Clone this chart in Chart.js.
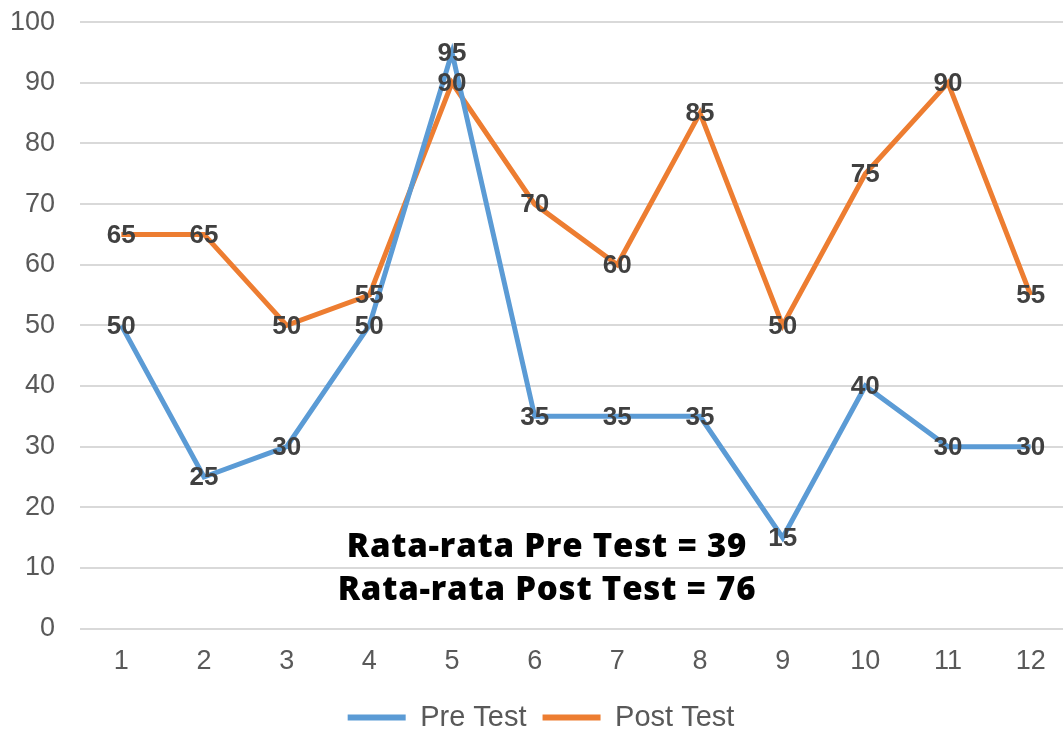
<!DOCTYPE html>
<html>
<head>
<meta charset="utf-8">
<script src="https://cdn.jsdelivr.net/npm/chart.js@4"></script>
<style>
  body { margin: 0; overflow: hidden; background: #fff; }
  #tela { position: relative; width: 1063px; height: 729px; overflow: hidden; }
  #wrap { position: absolute; left: 0; top: -19px; width: 1072px; height: 761px; }
  .rata { position: absolute; left: 0; width: 1094px; text-align: center;
          font-family: "Open Sans", sans-serif; font-weight: 800;
          font-size: 33px; letter-spacing: 0.8px; color: #000; line-height: 40px; }
</style>
</head>
<body>
<div id="tela">
  <div id="wrap"><canvas id="grafico"></canvas></div>
  <div class="rata" style="top:525px">Rata-rata Pre Test = 39</div>
  <div class="rata" style="top:568px">Rata-rata Post Test = 76</div>
</div>
<script>
var nomor = ["1", "2", "3", "4", "5", "6", "7", "8", "9", "10", "11", "12"];
var preTest = [50, 25, 30, 50, 95, 35, 35, 35, 15, 40, 30, 30];
var postTest = [65, 65, 50, 55, 90, 70, 60, 85, 50, 75, 90, 55];

var fonte = "Liberation Sans";

// escreve o valor em cima de cada ponto
const rotulos = {
  id: "rotulos",
  afterDatasetsDraw(chart) {
    const ctx = chart.ctx;
    ctx.save();
    ctx.font = "bold 26px '" + fonte + "'";
    ctx.fillStyle = "#404040";
    ctx.textAlign = "center";
    ctx.textBaseline = "middle";
    chart.data.datasets.forEach(function (ds, i) {
      chart.getDatasetMeta(i).data.forEach(function (p, j) {
        ctx.fillText(ds.data[j], p.x, p.y + 1);
      });
    });
    ctx.restore();
  },
};

new Chart(document.getElementById("grafico"), {
  type: "line",
  data: {
    labels: nomor,
    datasets: [
      {
        label: "Pre Test",
        data: preTest,
        borderColor: "#5B9BD5",
        backgroundColor: "#5B9BD5",
        borderWidth: 5,
        pointRadius: 0,
        tension: 0,
      },
      {
        label: "Post Test",
        data: postTest,
        borderColor: "#ED7D31",
        backgroundColor: "#ED7D31",
        borderWidth: 5,
        pointRadius: 0,
        tension: 0,
      },
    ],
  },
  options: {
    responsive: true,
    maintainAspectRatio: false,
    animation: false,
    layout: { padding: { top: 8, left: 10, right: 0, bottom: 0 } },
    plugins: {
      tooltip: { enabled: false },
      legend: {
        position: "bottom",
        labels: {
          font: { size: 29, family: fonte },
          color: "#595959",
          boxWidth: 58,
          boxHeight: 6,
          padding: 16,
          generateLabels: function (chart) {
            return chart.data.datasets.map(function (ds, i) {
              return {
                text: ds.label,
                fillStyle: ds.borderColor,
                strokeStyle: ds.borderColor,
                lineWidth: 0,
                datasetIndex: i,
                fontColor: "#595959",
              };
            });
          },
        },
      },
    },
    scales: {
      x: {
        offset: true,
        grid: { display: false },
        border: { display: false },
        ticks: {
          font: { size: 27, family: fonte },
          color: "#595959",
          padding: 9,
          maxRotation: 0,
        },
      },
      y: {
        min: 0,
        max: 100,
        grid: { color: "#d9d9d9", lineWidth: 2, drawTicks: false },
        border: { display: false },
        afterFit: function (escala) {
          escala.width = 70;
        },
        ticks: {
          stepSize: 10,
          font: { size: 27, family: fonte },
          color: "#595959",
          padding: 25,
        },
      },
    },
  },
  plugins: [rotulos],
});
</script>
</body>
</html>
